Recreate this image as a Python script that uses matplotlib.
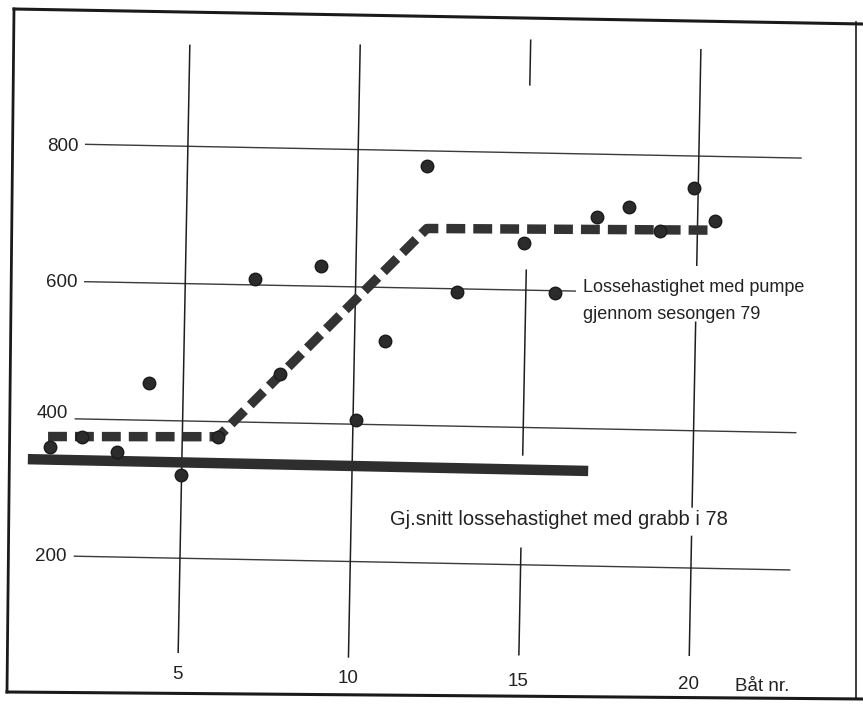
import matplotlib
matplotlib.use("Agg")
import matplotlib.pyplot as plt
import matplotlib.transforms as mtransforms
from matplotlib.lines import Line2D

plt.rcParams["font.family"] = ["Liberation Sans", "DejaVu Sans"]

# Lossehastighet med pumpe gjennom sesongen 79 (baat nr. / hastighet)
pump_boat = [1.12, 2.05, 3.08, 4.0, 4.98, 6.06, 7.05, 7.83, 8.97, 10.09,
             10.9, 12.02, 12.99, 14.93, 15.86, 17.04, 17.98, 18.89, 19.88, 20.52]
pump_rate = [359, 374, 353, 454, 321, 378, 608, 471, 630, 406,
             522, 778, 596, 668, 597, 709, 724, 690, 753, 706]

# trendlinje (stiplet)
trend_boat = [1.06, 6.06, 12.06, 20.32]
trend_rate = [373.5, 378, 687, 692.5]

# gj.snitt med grabb i 78
grabb_boat = [0.48, 16.93]
grabb_rate = [340, 338.5]

y_ticks = [800, 600, 400, 200]
x_ticks = [5, 10, 15, 20]
x_label = "Båt nr."
pump_text = ["Lossehastighet med pumpe", "gjennom sesongen 79"]
grabb_text = "Gj.snitt lossehastighet med grabb i 78"

# layout of the hand drawn grid (segment extents)
h_extent = {800: (2.0, 23.0), 600: (2.05, 16.45), 400: (1.85, 23.0), 200: (1.9, 22.9)}
v_segments = {5: [(63, 947)], 10: [(61, 952)],
              15: [(899, 964), (360, 629), (69, 224)],
              20: [(641, 955), (289, 558), (73, 246)]}
y_label_pos = {800: 797, 600: 598, 400: 408, 200: 199}

W, H = 863, 704
fig = plt.figure(figsize=(W / 100, H / 100), dpi=100)
fig.patch.set_facecolor("white")
ax = fig.add_axes([0, 0, 1, 1])
ax.set_xlim(-0.40, 24.93)
ax.set_ylim(-5.3, 1019.9)
ax.axis("off")

# the scanned page is turned about 1 degree
tilt = mtransforms.Affine2D().rotate_deg_around(431.5, 352, -1.1)
tr = ax.transData + tilt

for v in y_ticks:
    x0, x1 = h_extent[v]
    ax.plot([x0, x1], [v, v], color="#3a3a3a", lw=1.0, transform=tr, clip_on=False)
    ax.text(x0 - 0.22, y_label_pos[v], str(v), ha="right", va="center", fontsize=13.5,
            color="#222222", transform=tr)

for n in x_ticks:
    for y0, y1 in v_segments[n]:
        ax.plot([n, n], [y0, y1], color="#1e1e1e", lw=1.1, transform=tr, clip_on=False)
    ax.text(n, 30, str(n), ha="center", va="center", fontsize=13.5, color="#222222",
            transform=tr)
ax.text(21.36, 29, x_label, ha="left", va="center", fontsize=13.5, color="#222222",
        transform=tr)

ax.plot(grabb_boat, grabb_rate, color="#2e2e2e", lw=7.5, solid_capstyle="butt",
        transform=tr, clip_on=False, zorder=3)
ax.plot(trend_boat, trend_rate, color="#333333", lw=6.8, dashes=(2.0, 0.85),
        dash_capstyle="butt", solid_joinstyle="miter", transform=tr, clip_on=False, zorder=4)
ax.plot(pump_boat, pump_rate, "o", ms=9, color="#2b2b2b", mec="#1a1a1a",
        transform=tr, clip_on=False, zorder=5)

ax.text(16.68, 605, pump_text[0], ha="left", va="center", fontsize=13, color="#222222",
        transform=tr)
ax.text(16.68, 566, pump_text[1], ha="left", va="center", fontsize=13, color="#222222",
        transform=tr)
ax.text(11.14, 262, grabb_text, ha="left", va="center", fontsize=14.5, color="#222222",
        transform=tr)

# outer frame of the figure page
def frame_line(xs, ys, lw):
    fig.add_artist(Line2D([x / W for x in xs], [1 - y / H for y in ys],
                          transform=fig.transFigure, color="#1a1a1a", lw=lw))

frame_line([14, 863], [9, 24], 2.2)
frame_line([14, 7], [9, 692], 2.0)
frame_line([7, 863], [692, 699], 2.2)
frame_line([856, 856], [22, 699], 1.2)

fig.savefig("out.png", dpi=100, facecolor="white")
